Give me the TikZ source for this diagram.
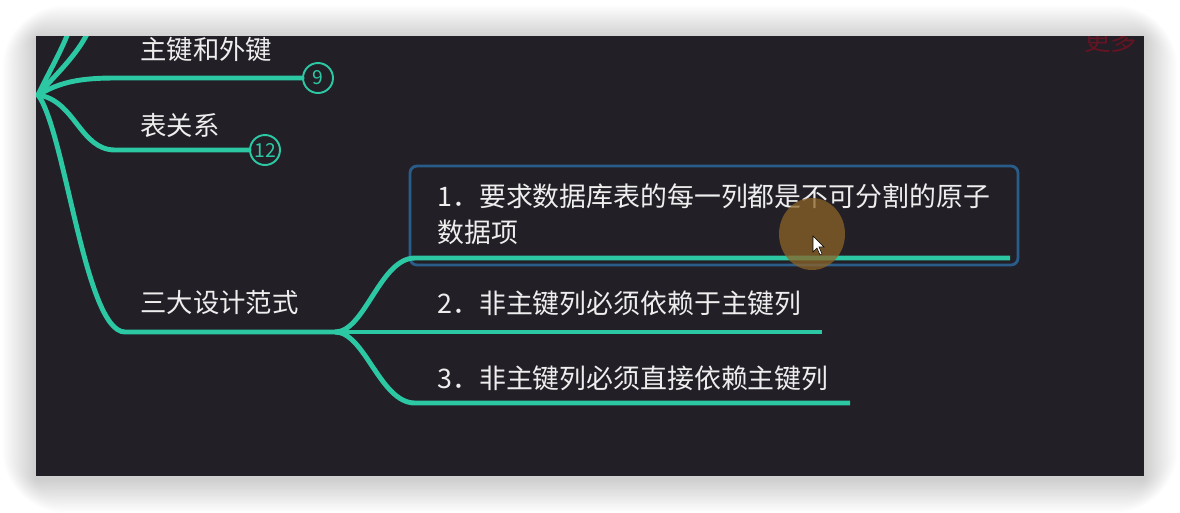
\documentclass[tikz,border=0pt]{standalone}
\usepackage{fontspec}
\setmainfont{Noto Sans CJK SC}
\usetikzlibrary{positioning}
\definecolor{panel}{RGB}{34,31,38}
\definecolor{teal}{RGB}{44,200,164}
\definecolor{frameblue}{RGB}{42,92,138}
\definecolor{textw}{RGB}{238,238,238}
\definecolor{hilite}{RGB}{140,100,38}
\definecolor{darkred}{RGB}{100,20,34}

\begin{document}
\begin{tikzpicture}[x=0.02cm,y=-0.02cm,
  branch/.style={teal,line width=2.8pt},
  label/.style={textw,font=\fontsize{15}{18}\selectfont,inner sep=0pt,anchor=west},
  sub/.style={textw,font=\fontsize{15.3}{20.4}\selectfont,inner sep=0pt,anchor=west,align=left},
  badge/.style={circle,draw=teal,line width=1.1pt,minimum size=0.6cm,inner sep=0pt,text=teal,font=\fontsize{11}{12}\selectfont}]
  \useasboundingbox (0,0) rectangle (1180,512);
  \fill[white] (0,0) rectangle (1180,512);
  % soft shadow round the panel
  \foreach \i in {1,...,24}
    \fill[black,opacity=0.007,rounded corners={\i*1.5pt}] (36-1.4*\i,36-1.4*\i+3) rectangle (1144+1.4*\i,476+1.4*\i+3);
  \fill[panel] (36,36) rectangle (1144,476);
  \begin{scope}
    \clip (36,36) rectangle (1144,476);
    \node[darkred,font=\fontsize{15}{18}\selectfont,inner sep=0pt,anchor=west] (more) at (1084,40.5) {更多};
    \coordinate (root) at (38,95);
    \coordinate (j) at (335,332);
    \coordinate (up1) at (70,28);
    \coordinate (up2) at (90,28);
    \coordinate (e1) at (1010,258);
    \coordinate (e2) at (822,332);
    \coordinate (e3) at (850,403);
    % selected topic frame
    \draw[frameblue,line width=1.6pt,rounded corners=4pt] (410,166) rectangle (1018,265);
    \node[badge] (c9) at (318,78) {9};
    \node[badge] (c12) at (265,150) {12};
    % branches from the root
    \draw[branch,line cap=round] (root) .. controls (50,70) and (62,50) .. (up1);
    \draw[branch,line cap=round] (root) .. controls (55,75) and (78,55) .. (up2);
    \draw[branch,line cap=round] (root) .. controls (60,82) and (80,78) .. (115,78) -- (c9);
    \draw[branch,line cap=round] (root) .. controls (75,100) and (80,150) .. (115,150) -- (c12);
    \draw[branch,line cap=round] (root) .. controls (65,130) and (85,332) .. (125,332) -- (j);
    % three sub topics
    \draw[branch] (j) .. controls (365,332) and (380,258) .. (415,258) -- (e1);
    \draw[branch] (j) -- (e2);
    \draw[branch] (j) .. controls (365,332) and (380,403) .. (415,403) -- (e3);
    \node[label] (k1) at (140,50) {主键和外键};
    \node[label] (k2) at (140,125) {表关系};
    \node[label] (k3) at (140,303) {三大设计范式};
    \node[sub] (s1) at (437,214) {1．要求数据库表的每一列都是不可分割的原子\\数据项};
    \node[sub] (s2) at (437,303) {2．非主键列必须依赖于主键列};
    \node[sub] (s3) at (437,378) {3．非主键列必须直接依赖主键列};
    % mouse pointer
    \fill[hilite,opacity=0.75] (812,234) ellipse [x radius=33, y radius=36];
    \filldraw[fill=white,draw=black,line width=0.3pt] (813,236) -- (813,252) -- (817,248) -- (820,255) -- (822,254) -- (819,247) -- (824,247) -- cycle;
  \end{scope}
\end{tikzpicture}
\end{document}
